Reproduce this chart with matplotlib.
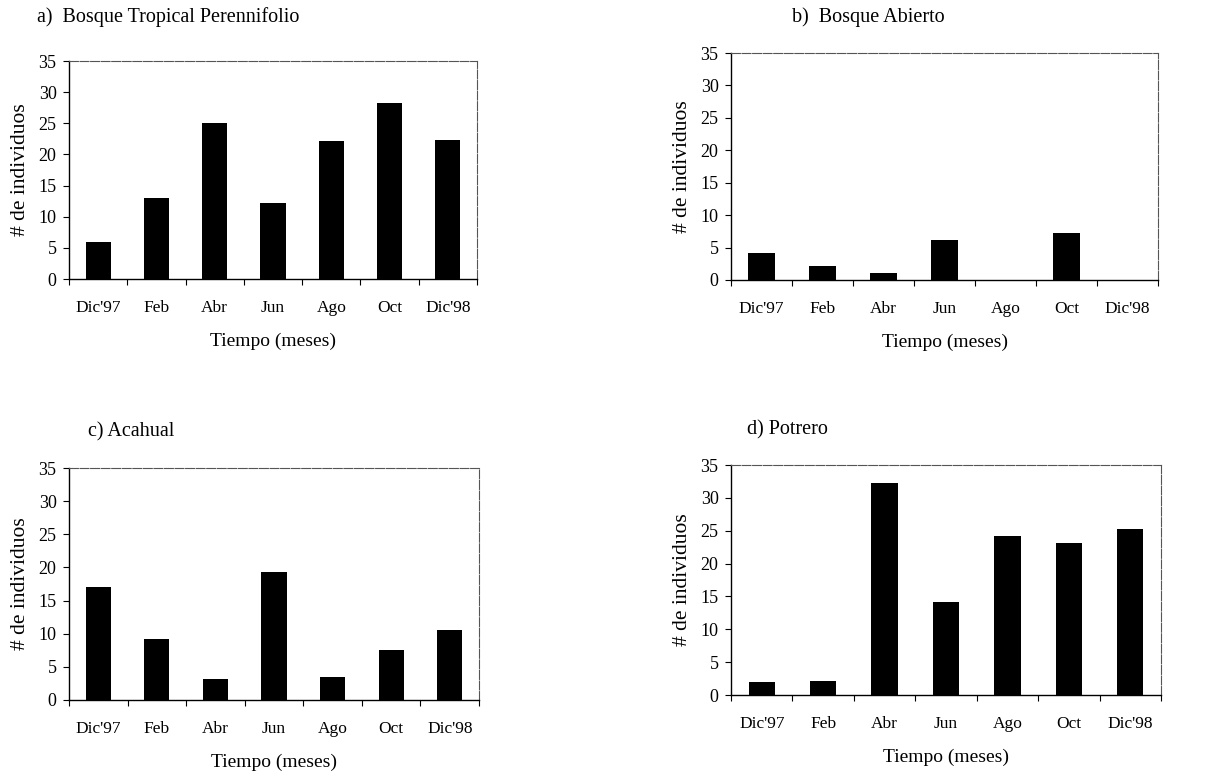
import matplotlib.pyplot as plt
import numpy as np

months = ["Dic'97", "Feb", "Abr", "Jun", "Ago", "Oct", "Dic'98"]

bosque_tropical = [5.9, 13.0, 25.1, 12.2, 22.1, 28.2, 22.3]
bosque_abierto = [4.1, 2.1, 1.1, 6.1, 0, 7.2, 0]
acahual = [17.1, 9.2, 3.2, 19.3, 3.4, 7.5, 10.5]
potrero = [2.0, 2.1, 32.2, 14.2, 24.2, 23.2, 25.3]

titles = ["a)  Bosque Tropical Perennifolio", "b)  Bosque Abierto",
          "c) Acahual", "d) Potrero"]

plt.rcParams['font.family'] = ['Liberation Serif', 'DejaVu Serif']

W, H = 1220, 781
fig = plt.figure(figsize=(W / 100, H / 100), dpi=100)

# axes boxes in pixels: left, top, right, bottom
boxes = [(69, 61, 477, 279), (731, 53, 1158, 280),
         (69, 468, 479, 700), (731, 465, 1161, 695)]
title_pos = [(37, 17), (792, 17), (88, 432), (747, 430)]
series = [bosque_tropical, bosque_abierto, acahual, potrero]


def draw_panel(box, values, title, tpos):
    l, t, r, b = box
    ax = fig.add_axes([l / W, 1 - b / H, (r - l) / W, (b - t) / H])
    x = np.arange(len(months))
    ax.bar(x, values, width=0.43, color='black')
    ax.set_xlim(-0.5, len(months) - 0.5)
    ax.set_ylim(0, 35)
    ax.set_yticks(range(0, 36, 5))
    ax.set_xticks(x)
    ax.set_xticklabels(months, fontsize=12.5)
    ax.set_xticks(np.arange(-0.5, len(months), 1), minor=True)
    ax.tick_params(axis='x', which='major', length=0, pad=15)
    ax.tick_params(axis='x', which='minor', length=4, width=0.8, direction='out')
    ax.tick_params(axis='y', length=4, width=0.8, labelsize=13, pad=5)
    for s in ['top', 'right']:
        ax.spines[s].set_color('#555555')
        ax.spines[s].set_linewidth(0.8)
        ax.spines[s].set_linestyle((0, (8, 1.5)))
    for s in ['left', 'bottom']:
        ax.spines[s].set_linewidth(1.0)
    ax.set_ylabel('# de individuos', fontsize=15.5, labelpad=6)
    ax.set_xlabel('Tiempo (meses)', fontsize=14, labelpad=12)
    fig.text(tpos[0] / W, 1 - tpos[1] / H, title, fontsize=14.5,
             ha='left', va='center')
    return ax


for box, vals, title, tpos in zip(boxes, series, titles, title_pos):
    draw_panel(box, vals, title, tpos)

fig.savefig('out.png', dpi=100)
